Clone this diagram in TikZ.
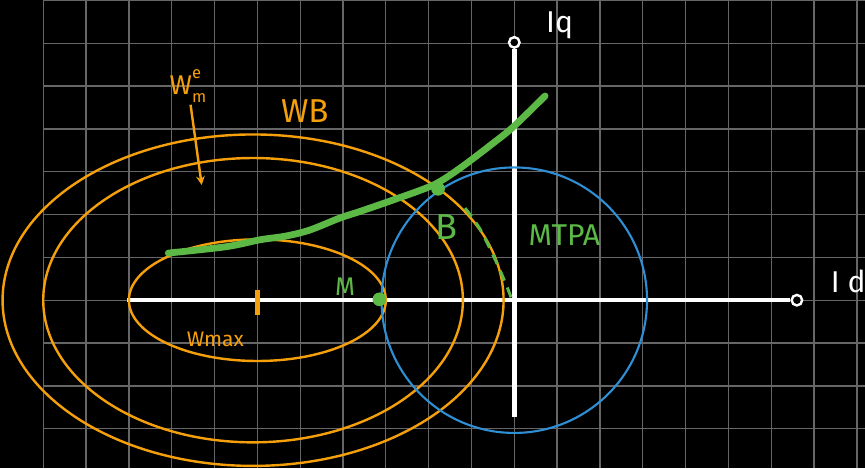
\documentclass[tikz,border=0pt]{standalone}
\usepackage{fontspec}
\setmainfont{Fira Sans}
\definecolor{gridgray}{HTML}{666666}
\definecolor{speedorange}{HTML}{F5A00A}
\definecolor{limitblue}{HTML}{2F8FD5}
\definecolor{mtpagreen}{HTML}{5CB946}

\begin{document}
\begin{tikzpicture}[
    gridline/.style={draw=gridgray, line width=0.9pt},
    axis/.style={draw=white, line width=3pt},
    endmark/.style={circle, draw=white, line width=1.6pt, fill=black, inner sep=0pt, minimum size=7pt},
    speed/.style={draw=speedorange, line width=1.6pt},
    limit/.style={draw=limitblue, line width=1.4pt},
    mtpa/.style={draw=mtpagreen, line width=4.5pt, line cap=round, line join=round},
    weak/.style={draw=mtpagreen, line width=2pt, dash pattern=on 7pt off 5pt},
    dot/.style={circle, fill=mtpagreen, inner sep=0pt, minimum size=0.32cm},
    lbl/.style={font=\fontsize{#1}{#1}\selectfont, inner sep=1pt}
]

% Background and grid
\fill[black] (-12.01,-3.92) rectangle (8.19,7.01);
\useasboundingbox (-12.01,-3.92) rectangle (8.19,7.01);
\foreach \x in {-11,...,8} \draw[gridline] (\x,-3.92) -- (\x,7.01);
\foreach \y in {-3,...,7} \draw[gridline] (-11,\y) -- (8.19,\y);

% Axes
\coordinate (idstart) at (-9.04,0);
\coordinate (iqstart) at (0,-2.72);
\node[endmark] (idend) at (6.6,0) {};
\node[endmark] (iqend) at (0,6.02) {};
\draw[axis] (idstart) -- (idend);
\draw[axis] (iqstart) -- (iqend);

% Speed ellipses
\draw[speed] (-6,0) ellipse [x radius=3, y radius=1.42];
\draw[speed] (-6.1,0) ellipse [x radius=4.9, y radius=3.32];
\draw[speed] (-6.1,0) ellipse [x radius=5.85, y radius=3.87];
\draw[speed, line width=3pt] (-6,0.24) -- (-6,-0.35);

% Current limit circle
\draw[limit] (0,0) circle [radius=3.1];

% MTPA trajectory
\draw[mtpa] plot[smooth] coordinates {(-8.08,1.10) (-6.72,1.25) (-5.94,1.41) (-5.32,1.50) (-4.77,1.64) (-4.07,1.92) (-3.61,2.07) (-2.83,2.34) (-1.89,2.69) (-1.27,3.08) (-0.49,3.67) (-0.02,4.05) (0.72,4.77)};
\draw[weak] plot[smooth] coordinates {(-1.15,2.15) (-0.80,1.66) (-0.41,0.87) (-0.17,0.31) (-0.05,0)};
\node[dot] (ptM) at (-3.15,0.02) {};
\node[dot] (ptB) at (-1.78,2.6) {};

% Labels
\node[lbl=20, text=white] (iqlbl) at (1.06,6.43) {Iq};
\node[lbl=20, text=white] (idlbl) at (7.8,0.45) {I d};
\node[lbl=18, text=speedorange] (wme) at (-7.62,5.0) {W\rlap{\raisebox{0.62em}{\fontsize{11}{11}\selectfont e}}\raisebox{-0.3em}{\fontsize{11}{11}\selectfont m}};
\node[lbl=22, text=speedorange] (wb) at (-4.89,4.42) {WB};
\node[lbl=14, text=speedorange] (wmax) at (-6.98,-0.92) {Wmax};
\node[lbl=17, text=mtpagreen] (mlbl) at (-3.95,0.31) {M};
\node[lbl=24, text=mtpagreen] (blbl) at (-1.58,1.71) {B};
\node[lbl=20, text=mtpagreen] (mtpalbl) at (1.17,1.53) {MTPA};

% Arrow into the speed region
\coordinate (wmetip) at (-7.3,2.69);
\draw[speed, -stealth] (wme) -- (wmetip);

\end{tikzpicture}
\end{document}
